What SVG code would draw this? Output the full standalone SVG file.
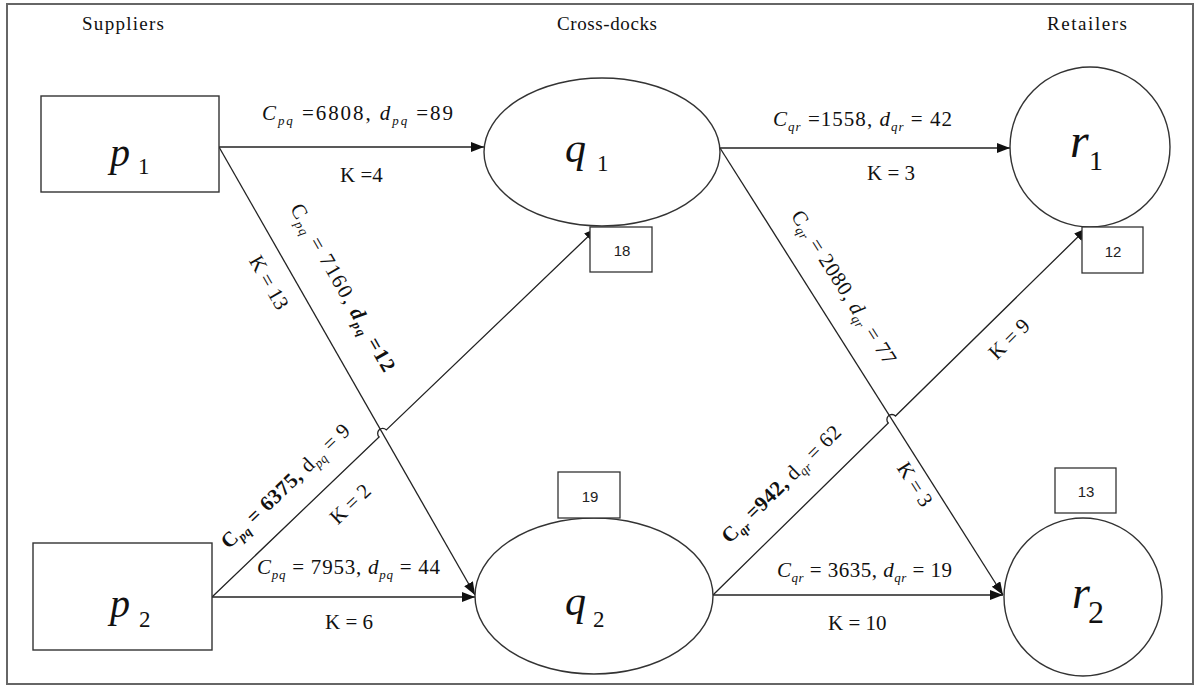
<svg xmlns="http://www.w3.org/2000/svg" width="1197" height="687" viewBox="0 0 1197 687">
<defs>
<style>
.t{font-family:"Liberation Serif","Times New Roman",serif;fill:#111;}
.lbl{font-size:21px;}
.sub{font-size:13px;font-style:italic;}
.it{font-style:italic;}
.hdr{font-size:19px;}
.box{fill:#fff;stroke:#333;stroke-width:1.3;}
.nd{fill:#fff;stroke:#333;stroke-width:1.4;}
.num{font-family:"Liberation Sans",Arial,sans-serif;font-size:15px;fill:#222;text-anchor:middle;}
.ln{fill:none;stroke:#222;stroke-width:1.3;}
</style>
<marker id="arr" markerUnits="userSpaceOnUse" markerWidth="14" markerHeight="12" refX="13" refY="5" orient="auto">
<path d="M0,0 L13,5 L0,10 z" fill="#111"/>
</marker>
</defs>
<rect x="0" y="0" width="1197" height="687" fill="#fff"/>
<rect x="7" y="4" width="1186" height="680" fill="none" stroke="#666" stroke-width="2"/>

<g id="headers" class="t hdr">
<text x="82" y="30" textLength="82" lengthAdjust="spacing">Suppliers</text>
<text x="557" y="30" textLength="100" lengthAdjust="spacing">Cross-docks</text>
<text x="1047" y="30" textLength="80" lengthAdjust="spacing">Retailers</text>
</g>

<g id="connectors">
<line class="ln" x1="219" y1="147" x2="484" y2="147" marker-end="url(#arr)"/>
<line class="ln" x1="219" y1="147" x2="475" y2="595" marker-end="url(#arr)"/>
<line class="ln" x1="212" y1="597" x2="475" y2="597" marker-end="url(#arr)"/>
<path class="ln" d="M212,597 L379.1,436.9 A5,5 0 0 1 386.3,429.9 L597,228" marker-end="url(#arr)"/>
<line class="ln" x1="720" y1="148" x2="1010" y2="148" marker-end="url(#arr)"/>
<line class="ln" x1="720" y1="148" x2="1003" y2="595" marker-end="url(#arr)"/>
<line class="ln" x1="713" y1="595" x2="1003" y2="595" marker-end="url(#arr)"/>
<path class="ln" d="M713,595 L888.3,423 A5,5 0 0 1 895.5,416 L1087,228" marker-end="url(#arr)"/>
</g>

<g id="connector-labels" class="t lbl">
<text x="262" y="120" textLength="191" lengthAdjust="spacing"><tspan class="it">C</tspan><tspan class="sub" dy="5">pq</tspan><tspan dy="-5"> =6808, </tspan><tspan class="it">d</tspan><tspan class="sub" dy="5">pq</tspan><tspan dy="-5"> =89</tspan></text>
<text x="340" y="182">K =4</text>
<text x="773" y="126" textLength="179" lengthAdjust="spacing"><tspan class="it">C</tspan><tspan class="sub" dy="5">qr</tspan><tspan dy="-5"> =1558, </tspan><tspan class="it">d</tspan><tspan class="sub" dy="5">qr</tspan><tspan dy="-5"> = 42</tspan></text>
<text x="867" y="180">K = 3</text>
<text x="257" y="574" textLength="183" lengthAdjust="spacing"><tspan class="it">C</tspan><tspan class="sub" dy="5">pq</tspan><tspan dy="-5"> = 7953, </tspan><tspan class="it">d</tspan><tspan class="sub" dy="5">pq</tspan><tspan dy="-5"> = 44</tspan></text>
<text x="325" y="629">K = 6</text>
<text x="777" y="577" textLength="175" lengthAdjust="spacing"><tspan class="it">C</tspan><tspan class="sub" dy="5">qr</tspan><tspan dy="-5"> = 3635, </tspan><tspan class="it">d</tspan><tspan class="sub" dy="5">qr</tspan><tspan dy="-5"> = 19</tspan></text>
<text x="828" y="630">K = 10</text>

<text transform="translate(337,291) rotate(60.26)" text-anchor="middle" textLength="190" lengthAdjust="spacing">C<tspan class="sub" dy="4">pq</tspan><tspan dy="-4"> = 7160, </tspan><tspan font-weight="bold" class="it">d</tspan><tspan class="sub" font-weight="bold" dy="4">pq</tspan><tspan dy="-4" font-weight="bold"> =12</tspan></text>
<text transform="translate(263,286) rotate(60.26)" text-anchor="middle">K = 13</text>
<text transform="translate(290,491) rotate(-43.78)" text-anchor="middle" textLength="170" lengthAdjust="spacing"><tspan font-weight="bold">C</tspan><tspan class="sub" font-weight="bold" dy="4">pq</tspan><tspan dy="-4" font-weight="bold"> = 6375, </tspan>d<tspan class="sub" dy="4">pq</tspan><tspan dy="-4"> = 9</tspan></text>
<text transform="translate(355,509) rotate(-43.78)" text-anchor="middle">K = 2</text>
<text transform="translate(838,291) rotate(57.66)" text-anchor="middle" textLength="178" lengthAdjust="spacing">C<tspan class="sub" dy="4">qr</tspan><tspan dy="-4"> = 2080, </tspan><tspan class="it">d</tspan><tspan class="sub" dy="4">qr</tspan><tspan dy="-4"> = 77</tspan></text>
<text transform="translate(909,488) rotate(57.66)" text-anchor="middle">K = 3</text>
<text transform="translate(786,489) rotate(-44.46)" text-anchor="middle" textLength="158" lengthAdjust="spacing"><tspan font-weight="bold">C</tspan><tspan class="sub" font-weight="bold" dy="4">qr</tspan><tspan dy="-4" font-weight="bold"> =942, </tspan>d<tspan class="sub" dy="4">qr</tspan><tspan dy="-4"> = 62</tspan></text>
<text transform="translate(1014,344) rotate(-44.46)" text-anchor="middle">K = 9</text>
</g>

<g id="p1">
<rect class="nd" x="41" y="96" width="178" height="96"/>
<text class="t" x="110" y="166" font-size="40" font-style="italic">p</text>
<text class="t" x="138" y="174" font-size="23">1</text>
</g>
<g id="p2">
<rect class="nd" x="33" y="543" width="179" height="107"/>
<text class="t" x="110" y="617" font-size="40" font-style="italic">p</text>
<text class="t" x="139" y="627" font-size="23">2</text>
</g>
<g id="q1">
<ellipse class="nd" cx="602" cy="152" rx="118" ry="74"/>
<text class="t" x="565" y="162" font-size="42" font-style="italic">q</text>
<text class="t" x="597" y="171" font-size="23">1</text>
</g>
<g id="q1-cap">
<rect class="box" x="590" y="227" width="62" height="45"/>
<text class="num" x="622" y="256">18</text>
</g>
<g id="q2">
<ellipse class="nd" cx="594" cy="596" rx="119" ry="78"/>
<text class="t" x="565" y="615" font-size="42" font-style="italic">q</text>
<text class="t" x="593" y="627" font-size="23">2</text>
</g>
<g id="q2-cap">
<rect class="box" x="558" y="472" width="62" height="46"/>
<text class="num" x="590" y="502">19</text>
</g>
<g id="r1">
<circle class="nd" cx="1090" cy="147" r="80"/>
<text class="t" x="1070" y="157" font-size="48" font-style="italic">r</text>
<text class="t" x="1089" y="170" font-size="28">1</text>
</g>
<g id="r1-cap">
<rect class="box" x="1082" y="227" width="61" height="46"/>
<text class="num" x="1113" y="257">12</text>
</g>
<g id="r2">
<circle class="nd" cx="1083" cy="597" r="79"/>
<text class="t" x="1072" y="608" font-size="46" font-style="italic">r</text>
<text class="t" x="1088" y="623" font-size="32">2</text>
</g>
<g id="r2-cap">
<rect class="box" x="1055" y="468" width="61" height="45"/>
<text class="num" x="1086" y="497">13</text>
</g>
</svg>
